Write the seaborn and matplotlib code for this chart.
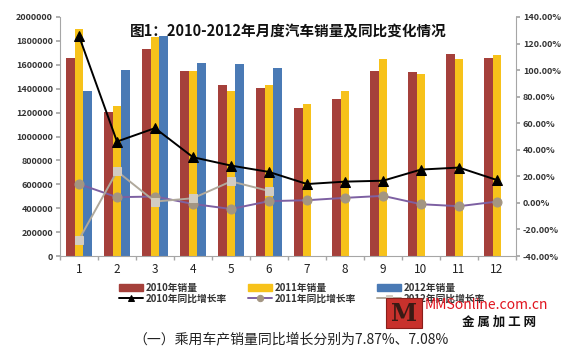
import numpy as np
import pandas as pd
import matplotlib
matplotlib.use('Agg')
import matplotlib.pyplot as plt
from matplotlib.patches import Rectangle
from matplotlib.ticker import FuncFormatter, FixedLocator
import seaborn as sns

# monthly sales (units) and year-on-year growth (%)
months = [str(m) for m in range(1, 13)]
sales_2010 = [1657000, 1203000, 1731000, 1551000, 1429000, 1405000,
              1236000, 1311000, 1551000, 1537000, 1691000, 1657000]
sales_2011 = [1897000, 1257000, 1829000, 1551000, 1380000, 1429000,
              1270000, 1377000, 1645000, 1520000, 1651000, 1680000]
sales_2012 = [1383000, 1560000, 1837000, 1617000, 1603000, 1572000,
              np.nan, np.nan, np.nan, np.nan, np.nan, np.nan]
growth_2010 = [125.7, 46.2, 56.3, 34.4, 28.1, 23.3, 14.2, 16.0, 16.7, 25.1, 26.6, 17.2]
growth_2011 = [14.2, 4.3, 4.8, -0.8, -4.6, 1.3, 2.0, 3.8, 5.3, -1.0, -2.5, 1.0]
growth_2012 = [-27.6, 23.8, 1.0, 3.5, 16.2, 9.0]

bar_labels = ['2010年销量', '2011年销量', '2012年销量']
line_labels = ['2010年同比增长率', '2011年同比增长率', '2012年同比增长率']
bar_colors = ['#A5403B', '#F7C21A', '#4A7AB5']

df = pd.DataFrame({
    'month': months * 3,
    'sales': sales_2010 + sales_2011 + sales_2012,
    'series': [bar_labels[0]] * 12 + [bar_labels[1]] * 12 + [bar_labels[2]] * 12,
})

sns.set_theme(style='white')
plt.rcParams['font.family'] = ['Noto Sans CJK SC', 'DejaVu Sans']
plt.rcParams['axes.unicode_minus'] = False

fig = plt.figure(figsize=(5.7, 3.52), dpi=100)
ax = fig.add_axes([60 / 570, 1 - 256 / 352, 456 / 570, 239 / 352])

sns.barplot(data=df, x='month', y='sales', hue='series', hue_order=bar_labels,
            palette=bar_colors, width=0.66, saturation=1, ax=ax, legend=False,
            linewidth=0, edgecolor='none')
ax.set_xlim(-0.5, 11.5)
ax.set_ylim(0, 2000000)
ax.set_yticks(np.arange(0, 2000001, 200000))
ax.yaxis.set_major_formatter(FuncFormatter(lambda v, p: '%d' % v))
ax.set_xlabel('')
ax.set_ylabel('')

ax2 = ax.twinx()
x = np.arange(12)
sns.lineplot(x=x, y=growth_2010, ax=ax2, color='black', lw=1.4, marker='^',
             markersize=6.5, markeredgecolor='black', label=line_labels[0])
sns.lineplot(x=x, y=growth_2011, ax=ax2, color='#7D60A2', lw=1.4, marker='o',
             markersize=6.5, markerfacecolor='#A39582', markeredgecolor='#A39582',
             label=line_labels[1])
sns.lineplot(x=x[:6], y=growth_2012, ax=ax2, color='#B0A99C', lw=1.4, marker='s',
             markersize=5.5, markerfacecolor='#D2CCC2', markeredgecolor='#D2CCC2',
             label=line_labels[2])
ax2.set_ylim(-40, 140)
ax2.set_yticks(np.arange(-40, 141, 20))
ax2.yaxis.set_major_formatter(FuncFormatter(lambda v, p: '%.2f%%' % v))
ax2.set_xlim(-0.5, 11.5)
if ax2.get_legend():
    ax2.get_legend().remove()

for a in (ax, ax2):
    for s in a.spines.values():
        s.set_color('#A6A6A6')
        s.set_linewidth(0.8)
    a.spines['top'].set_visible(False)
ax.spines['right'].set_visible(False)
ax2.spines['left'].set_visible(False)
ax2.spines['bottom'].set_visible(False)

ax.tick_params(axis='y', length=3, color='#A6A6A6', labelsize=6.5, pad=2,
               left=True, labelcolor='#333333')
ax2.tick_params(axis='y', length=3, color='#A6A6A6', labelsize=6.5, pad=2,
                right=True, labelcolor='#333333')
for lab in ax.get_yticklabels() + ax2.get_yticklabels():
    lab.set_fontweight('bold')
ax.tick_params(axis='x', length=0, labelsize=8.5, pad=5, labelcolor='#222222')
ax.xaxis.set_minor_locator(FixedLocator(np.arange(-0.5, 12, 1)))
ax.tick_params(axis='x', which='minor', bottom=True, length=3, color='#A6A6A6')

ax.text(0.5, 0.975, '图1：2010-2012年月度汽车销量及同比变化情况', transform=ax.transAxes,
        ha='center', va='top', fontsize=10.5, fontweight='bold', color='#111111')

bar_handles = [Rectangle((0, 0), 1, 1, color=c) for c in bar_colors]
line_handles = ax2.get_lines()[:3]
handles = [bar_handles[0], line_handles[0], bar_handles[1], line_handles[1],
           bar_handles[2], line_handles[2]]
labels = [bar_labels[0], line_labels[0], bar_labels[1], line_labels[1],
          bar_labels[2], line_labels[2]]
leg = fig.legend(handles, labels, ncol=3, loc='upper left',
                 bbox_to_anchor=(114 / 570, 1 - 278 / 352), frameon=False,
                 handlelength=2.5, handletextpad=0.3, markerscale=0.7,
                 columnspacing=2.1, labelspacing=0.1, borderpad=0,
                 prop={'weight': 'bold', 'size': 7})
for t in leg.get_texts():
    t.set_color('#333333')

# site logo
fig.patches.append(Rectangle((386 / 570, 1 - 328 / 352), 36 / 570, 30 / 352,
                             transform=fig.transFigure, facecolor='#C8312C',
                             edgecolor='#8A1E1A', lw=0.8, zorder=10))
fig.text(404 / 570, 1 - 314 / 352, 'M', ha='center', va='center', fontsize=17,
         fontweight='bold', family='DejaVu Serif', color='#3A1A14', zorder=11)
fig.text(425 / 570, 1 - 305 / 352, 'MMSonline.com.cn', ha='left', va='center',
         fontsize=10, color='#E0141E', zorder=11)
fig.text(536 / 570, 1 - 322 / 352, '金 属 加 工 网', ha='right', va='center',
         fontsize=9, fontweight='bold', color='#111111', zorder=11)

fig.text(291 / 570, 1 - 339 / 352, '（一）乘用车产销量同比增长分别为7.87%、7.08%',
         ha='center', va='center', fontsize=10, color='#222222')

fig.savefig('out.png', dpi=100)
